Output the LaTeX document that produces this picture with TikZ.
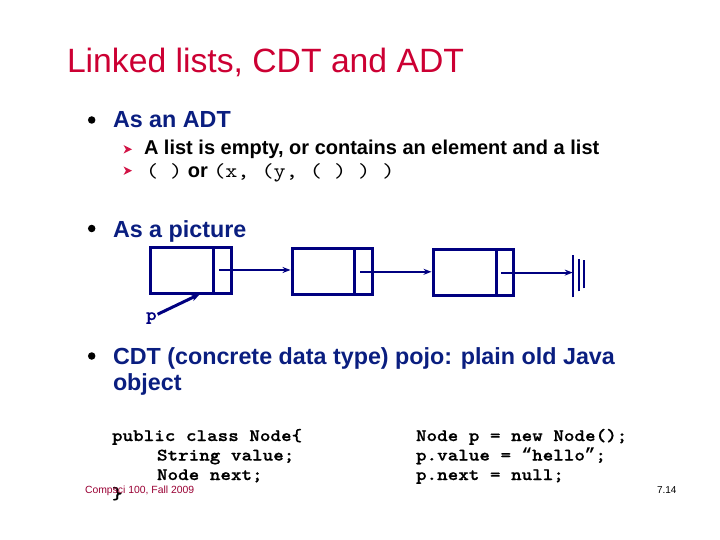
\documentclass[tikz,border=0pt]{standalone}
\usepackage{fontspec}
\setmainfont{Liberation Sans}
\setsansfont{Liberation Sans}
\setmonofont{Liberation Mono}
\newfontfamily\courb{lmmonolt10-bold}[Extension=.otf, FakeStretch=1.15, FakeBold=0.8]
\newfontfamily\cour{lmmono10-regular}[Extension=.otf, FakeStretch=1.15]
\newfontfamily\lmonob{Liberation Mono Bold}
\usetikzlibrary{arrows.meta}
\definecolor{titlered}{RGB}{204,0,51}
\definecolor{navy}{RGB}{0,0,128}
\definecolor{bodyblue}{RGB}{10,30,128}
\definecolor{footred}{RGB}{153,0,51}
\definecolor{arrowred}{RGB}{210,20,70}
\tikzset{
  txt/.style={anchor=base west,inner sep=0pt,outer sep=0pt},
  bul/.style={txt,font=\fontsize{23.3}{26}\selectfont\bfseries,text=bodyblue},
  subtxt/.style={txt,font=\fontsize{20}{24}\selectfont\bfseries,text=black},
  code/.style={txt,font=\fontsize{17.5}{19.5}\selectfont\courb,text=black},
  cell/.style={draw=navy,line width=3pt,inner sep=0pt,minimum height=46pt},
  link/.style={draw=navy,line width=2pt,-{Stealth[length=8pt,width=6pt]}},
  gnd/.style={draw=navy,line width=2.2pt},
  dot/.style={circle,fill=black,inner sep=0pt,minimum size=7.5pt},
  subarrow/.style={fill=arrowred}
}
\begin{document}
\begin{tikzpicture}[x=1pt,y=-1pt]
\useasboundingbox (0,0) rectangle (720,540);
% title
\node[txt,font=\fontsize{33.7}{36}\selectfont,text=titlered] (title) at (67,73) {Linked lists, CDT and ADT};
% bullets
\node[dot] (d1) at (91.7,120) {};
\node[bul] (adt) at (113,128) {As an ADT};
\fill[subarrow] (123.5,145) -- (132,149.3) -- (123.5,153.6) -- (126,149.3) -- cycle;
\node[subtxt] (s1) at (144,155) {A list is empty, or contains an element and a list};
\fill[subarrow] (123.5,166.4) -- (132,170.7) -- (123.5,175) -- (126,170.7) -- cycle;
\node[subtxt] (s2) at (146,177.5) {{\cour ( )} or {\cour (x, (y, ( ) ) )}};
\node[dot] (d2) at (91.7,228.5) {};
\node[bul] (pic) at (113,237) {As a picture};
% list picture
\node[cell,minimum width=63pt] (b1v) at (181.5,270) {};
\node[cell,minimum width=18pt] (b1n) at (222,270) {};
\node[cell,minimum width=62pt] (b2v) at (323,271.8) {};
\node[cell,minimum width=18pt] (b2n) at (363,271.8) {};
\node[cell,minimum width=63pt] (b3v) at (464.5,272.6) {};
\node[cell,minimum width=17pt] (b3n) at (504.5,272.6) {};
\coordinate (g) at (572.7,273.3);
\draw[link] ([xshift=-3pt]b1n.center) -- (b1n.center -| b2v.west);
\draw[link] ([xshift=-3pt]b2n.center) -- (b2n.center -| b3v.west);
\draw[link] ([xshift=-3.5pt]b3n.center) -- (b3n.center -| g);
\draw[gnd] ([yshift=-24pt]g) -- ([yshift=18pt]g);
\draw[gnd] ([xshift=6.3pt,yshift=-18pt]g) -- ([xshift=6.3pt,yshift=14pt]g);
\draw[gnd] ([xshift=11.6pt,yshift=-15pt]g) -- ([xshift=11.6pt,yshift=13.4pt]g);
\node[txt,font=\fontsize{17.5}{19}\selectfont\courb,text=navy] (p) at (146,320) {p};
\coordinate (pt) at (200,294);
\draw[draw=navy,line width=3pt,-{Stealth[length=9pt,width=7pt]}] (p.north east) ++(1pt,-2pt) -- (pt);
% CDT bullet
\node[dot] (d3) at (91.7,356) {};
\node[bul] (cdt) at (113,364) {CDT (concrete data type) pojo: plain old Java};
\node[bul] (obj) at (113,390) {object};
% code
\node[code] (c1) at (112,441) {public class Node\{};
\node[code] (c2) at (157,460.5) {String value;};
\node[code] (c3) at (157,480) {Node next;};
\node[code] (c4) at (112,499) {\}};
\node[code] (r1) at (416,441) {Node p = new Node();};
\node[code] (r2) at (416,460.5) {p.value = {\lmonob “}hello{\lmonob ”};};
\node[code] (r3) at (416,480) {p.next = null;};
% footer
\node[txt,font=\fontsize{10.4}{12}\selectfont,text=footred] (foot) at (85,493) {Compsci 100, Fall 2009};
\node[txt,font=\fontsize{10}{12}\selectfont,text=black] (num) at (657,493) {7.14};
\end{tikzpicture}
\end{document}
